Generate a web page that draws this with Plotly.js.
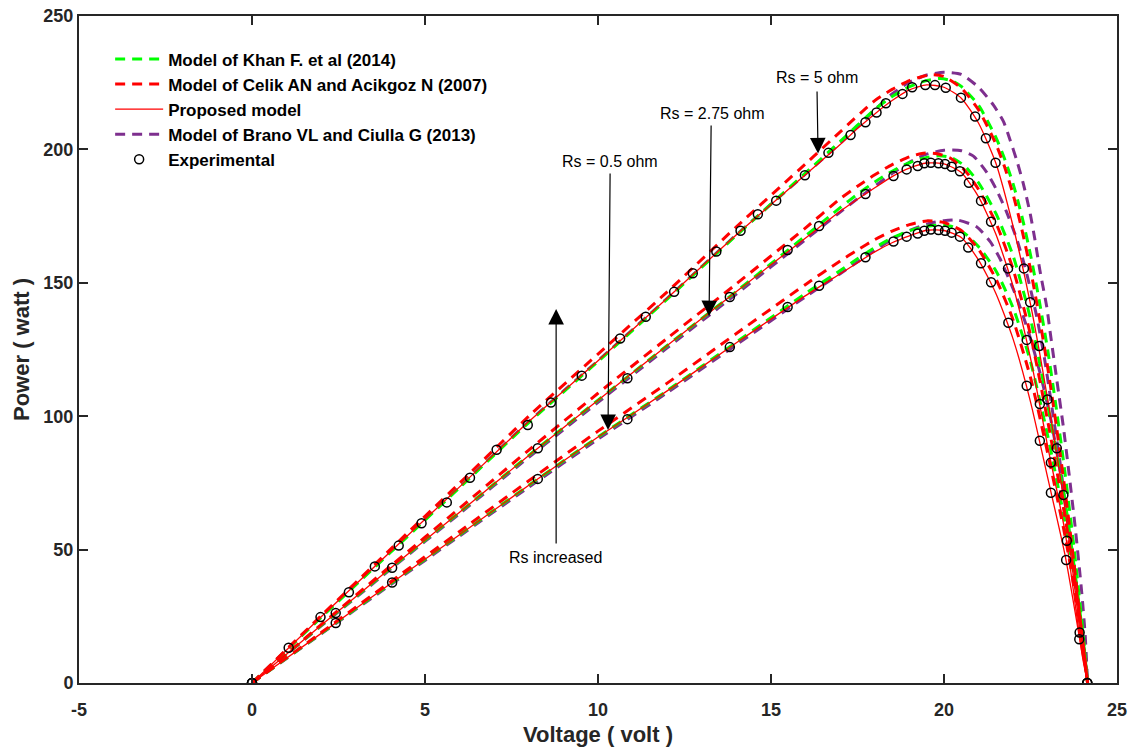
<!DOCTYPE html>
<html>
<head>
<meta charset="utf-8">
<script src="https://cdn.plot.ly/plotly-3.0.1.min.js"></script>
<style>html,body{margin:0;padding:0;background:#fff;}#chart{width:1133px;height:751px;}</style>
</head>
<body>
<div id="chart"></div>
<script>
// ---------- Experimental points ----------
const expV_top = [0,1.06,1.98,2.80,3.55,4.24,4.90,5.63,6.30,7.07,7.97,8.64,9.53,10.64,11.38,12.20,12.74,13.42,14.12,14.62,15.15,15.98,16.66,17.30,17.73,18.05,18.32,18.80,19.08,19.46,19.74,20.05,20.49,20.90,21.21,21.49,22.31,22.49,22.75,22.99,23.26,23.45,23.92,24.14];
const expP_top = [0,13.2,24.7,34.0,43.7,51.5,59.9,67.7,76.9,87.4,96.7,105.1,115.2,129.1,137.3,146.6,153.6,161.7,169.5,175.7,180.8,190.3,198.7,205.4,210.2,213.8,217.3,220.8,223.3,224.1,224.1,223.1,219.4,212.3,204.2,195.0,155.4,142.7,126.3,106.3,88.0,70.5,18.9,0];
const expV_mid = [0,2.42,4.05,8.26,10.85,13.81,15.48,16.39,17.73,18.54,18.92,19.24,19.43,19.62,19.84,20.03,20.22,20.46,20.72,21.07,21.36,21.85,22.39,22.77,23.09,23.55,23.91,24.14];
const expP_mid = [0,26.2,43.2,88.0,114.2,144.7,162.3,171.3,183.3,190.0,192.5,193.8,194.8,195.0,194.8,194.5,193.5,191.8,187.5,180.7,172.9,155.4,128.6,104.6,82.6,53.3,16.4,0];
const expV_bot = [0,2.42,4.05,8.26,10.85,13.81,15.48,16.39,17.73,18.54,18.92,19.24,19.43,19.62,19.84,20.03,20.22,20.46,20.70,21.07,21.36,21.86,22.39,22.77,23.09,23.53,24.14];
const expP_bot = [0,22.5,37.7,76.5,98.9,125.9,140.9,148.9,159.6,165.5,167.3,168.5,169.5,170.0,169.8,169.5,168.8,167.3,163.2,157.3,150.2,135.0,111.4,90.8,71.3,46.1,0];

// ---------- Proposed model (red solid) ----------
const propV = [0,2,4,6,8,10,12,14,16,17,17.5,18,18.5,19,19.5,20,20.5,21,21.5,22,22.5,23,23.5,24,24.15];
const propP_top = [0,24.8,49.2,73.5,98,120.8,144.2,168,190.6,201.8,207.8,213.3,218.3,222.3,224.2,223.3,219.2,209.8,194.8,171,142,106,65,12,0];
const propP_mid = [0,21.6,43,64,85.3,106,126.5,146.7,166.8,176.8,181.3,185.6,189.8,193,194.9,194.6,191.3,182.2,168.2,148.5,121.8,88.5,56.5,10,0];
const propP_bot = [0,18.6,37.2,55.6,74.1,92.2,109.5,127.5,145.2,153.4,157.5,161.6,165,167.6,169.7,169.6,167,158.5,146,128.8,105.4,76.8,47.8,10.6,0];

// ---------- Model of Celik AN and Acikgoz N (2007) (red dashed) ----------
const celikV_top = [0,2,4,6,8,10,12,14,16,17,18,18.5,19,19.4,19.7,20,20.5,21,21.5,21.75,22,22.25,22.5,22.75,23,23.25,23.5,23.75,24,24.15];
const celikP_top = [0,25.2,50.1,74.9,100,123.3,146.6,171,194.6,206.6,218.3,222.5,225.8,227.4,228,227.3,223,214.8,202,193.5,183,170,155,137.5,118,96,72,45.5,16.5,0];
const celikV_mid = [0,2,4,6,8,10,12,14,16,17,17.5,18,18.5,19,19.4,19.8,20.2,20.6,21,21.5,22,22.5,23,23.5,23.8,24,24.15];
const celikP_mid = [0,21.9,43.8,65.5,87.3,108.6,129.2,149.6,170.6,181.5,186.2,190.5,194.3,197.2,198.6,198.4,196.6,192.2,185,172.5,155,130.5,98,62,37,17,0];
const celikV_bot = [0,2,4,6,8,10,12,14,16,17,17.5,18,18.5,19,19.5,20,20.5,21,21.5,22,22.5,23,23.5,23.8,24,24.15];
const celikP_bot = [0,18.9,37.9,56.8,75.8,94.4,112.4,131,149.4,158.2,162.3,166.2,169.4,171.8,173.2,172.6,169.6,162.5,151.5,136,114.5,86,55,33,15,0];

// ---------- Model of Khan F. et al (2014) (green dashed) ----------
const khanV_top = [0,2,4,6,8,10,12,14,16,17,18,18.5,19,19.5,19.9,20.25,20.5,21,21.5,21.75,22,22.25,22.5,22.75,23,23.25,23.5,23.75,24,24.15];
const khanP_top = [0,24.6,48.9,73.2,97.6,120.5,143.9,167.8,191.2,203,215,219.8,223.5,225.8,226.6,225.6,223.6,216.5,204.5,196.5,187,175,160.5,143.5,124.5,102.5,78.5,51.5,21,0];
const khanV_mid = [0,2,4,6,8,10,12,14,16,17,17.5,18,18.5,19,19.5,19.85,20.2,20.6,21,21.5,22,22.5,23,23.5,23.8,24,24.15];
const khanP_mid = [0,21.6,43,64,85.3,106,126.5,146.8,167.6,178.2,183.2,187.8,191.8,195,197,197.6,197,193.8,187.5,176,160,136.5,104,68,40,19,0];
const khanV_bot = [0,2,4,6,8,10,12,14,16,17,17.5,18,18.5,19,19.5,19.85,20.2,20.6,21,21.5,22,22.5,23,23.5,23.8,24,24.15];
const khanP_bot = [0,18.6,37.2,55.6,74.1,92.2,109.6,127.8,146,154.6,159,163.2,166.8,169.5,171.2,171.6,171.2,168.5,163.5,154.5,140.5,120.5,92.5,60,37,17,0];

// ---------- Model of Brano VL and Ciulla G (2013) (purple dashed) ----------
const branoV_top = [0,2,4,6,8,10,12,14,16,17,18,18.5,19,19.5,20,20.5,21,21.43,21.72,21.91,22.1,22.29,22.49,22.63,22.77,22.97,23.06,23.26,23.45,23.59,23.79,23.98,24.08,24.15];
const branoP_top = [0,24.8,49.2,73.5,98,120.8,144.2,168,190.8,202.3,214.8,220.8,225.2,227.9,228.9,228.1,223.3,216.6,210.4,203.5,196,187.3,176,166,154.8,141,132.3,113.6,96,81.1,58.6,34,18,0];
const branoV_mid = [0,2,4,6,8,10,12,14,16,17,17.5,18,18.5,19,19.5,20,20.5,20.85,21.23,21.52,21.81,22.1,22.34,22.53,22.68,22.9,23.1,23.35,23.6,23.85,24.05,24.15];
const branoP_mid = [0,21.4,42.6,63.5,84.6,105.2,125.6,145.8,166.2,176.5,181.5,186.2,191,195.2,198.2,199.7,199.5,197.5,191.5,184.8,176.5,166.5,156,146,137.3,122,105,83,57,31,12,0];
const branoV_bot = [0,2,4,6,8,10,12,14,16,17,17.5,18,18.5,19,19.5,20,20.4,20.94,21.33,21.62,21.91,22.1,22.29,22.49,22.8,23.1,23.4,23.7,23.95,24.15];
const branoP_bot = [0,18.4,36.8,55.1,73.4,91.4,108.8,126.8,144.8,153.4,157.8,162.2,166.3,169.6,172,173.3,173.5,171,165.5,159,150.5,144.5,137.5,129.5,115,98,76,50,24,0];

// ---------- Labels ----------
const nameKhan = 'Model of Khan F. et al (2014)';
const nameCelik = 'Model of Celik AN and Acikgoz N (2007)';
const nameProp = 'Proposed model';
const nameBrano = 'Model of Brano VL and Ciulla G (2013)';
const nameExp = 'Experimental';
const xTicks = [-5,0,5,10,15,20,25];
const yTicks = [0,50,100,150,200,250];

const GREEN = '#00FF00', RED = '#FF0000', PURPLE = '#7E2F8E';
const DASH = '10px,7px';
const traces = [];
function line(x, y, name, color, dash, width, rank, show, grp){
  traces.push({x:x, y:y, type:'scatter', mode:'lines', name:'<b>'+name+'</b>',
    line:{color:color, width:width, dash:dash, shape:'spline', smoothing:0.6},
    legendgroup:grp, showlegend:show, legendrank:rank, hoverinfo:'skip'});
}
[[branoV_top,branoP_top,true],[branoV_mid,branoP_mid,false],[branoV_bot,branoP_bot,false]].forEach(a=>line(a[0],a[1],nameBrano,PURPLE,DASH,3,4,a[2],'brano'));
[[khanV_top,khanP_top,true],[khanV_mid,khanP_mid,false],[khanV_bot,khanP_bot,false]].forEach(a=>line(a[0],a[1],nameKhan,GREEN,DASH,3,1,a[2],'khan'));
[[celikV_top,celikP_top,true],[celikV_mid,celikP_mid,false],[celikV_bot,celikP_bot,false]].forEach(a=>line(a[0],a[1],nameCelik,RED,DASH,3,2,a[2],'celik'));
[[propV,propP_top,true],[propV,propP_mid,false],[propV,propP_bot,false]].forEach(a=>line(a[0],a[1],nameProp,RED,'solid',1.3,3,a[2],'prop'));
[[expV_top,expP_top,true],[expV_mid,expP_mid,false],[expV_bot,expP_bot,false]].forEach(a=>{
  traces.push({x:a[0], y:a[1], type:'scatter', mode:'markers', name:'<b>'+nameExp+'</b>',
    marker:{symbol:'circle-open', size:9, color:'#000', line:{width:1.5, color:'#000'}},
    legendgroup:'exp', showlegend:a[2], legendrank:5, hoverinfo:'skip'});
});

const FONT = 'Liberation Sans, Arial, Helvetica, sans-serif';
const AX = '#262626';
function txt(x,y,t){return {x:x,y:y,xref:'x',yref:'y',text:t,showarrow:false,font:{family:FONT,size:16,color:'#000'}};}
function arr(x,y,ax,ay){return {x:x,y:y,ax:ax,ay:ay,xref:'x',yref:'y',axref:'x',ayref:'y',text:'',showarrow:true,arrowhead:2,arrowsize:2.6,arrowwidth:1.2,arrowcolor:'#000',standoff:0,startstandoff:0};}

const layout = {
  width:1133, height:751,
  margin:{l:79, r:16, t:16, b:68},
  paper_bgcolor:'#fff', plot_bgcolor:'#fff',
  font:{family:FONT, color:AX},
  showlegend:true,
  legend:{x:0.030, y:0.962, xanchor:'left', yanchor:'top', bgcolor:'rgba(0,0,0,0)', borderwidth:0,
    font:{family:FONT, size:17, color:'#000'}, tracegroupgap:0, itemwidth:48},
  xaxis:{range:[-5,25], tickvals:xTicks, ticktext:xTicks.map(String), ticks:'inside', ticklen:9, tickwidth:2, tickcolor:AX,
    showline:true, linecolor:AX, linewidth:2, mirror:'ticks', showgrid:false, zeroline:false, ticklabelstandoff:9,
    tickfont:{family:FONT, size:18, color:AX, weight:'bold'},
    title:{text:'<b>Voltage ( volt )</b>', font:{family:FONT, size:22, color:AX}, standoff:8}},
  yaxis:{range:[0,250], tickvals:yTicks, ticktext:yTicks.map(String), ticks:'inside', ticklen:9, tickwidth:2, tickcolor:AX,
    showline:true, linecolor:AX, linewidth:2, mirror:'ticks', showgrid:false, zeroline:false,
    tickfont:{family:FONT, size:18, color:AX, weight:'bold'},
    title:{text:'<b>Power ( watt )</b>', font:{family:FONT, size:22, color:AX}, standoff:8}},
  annotations:[
    txt(16.33,226.8,'Rs = 5 ohm'), arr(16.36,198.5,16.33,222.3),
    txt(13.32,213.6,'Rs = 2.75 ohm'), arr(13.21,137.5,13.27,209.5),
    txt(10.35,195.3,'Rs = 0.5 ohm'), arr(10.29,94.8,10.35,191.5),
    txt(8.76,47.2,'Rs increased'), arr(8.79,140.2,8.79,51.7)
  ]
};
Plotly.newPlot('chart', traces, layout, {displayModeBar:false, staticPlot:true});
</script>
</body>
</html>
